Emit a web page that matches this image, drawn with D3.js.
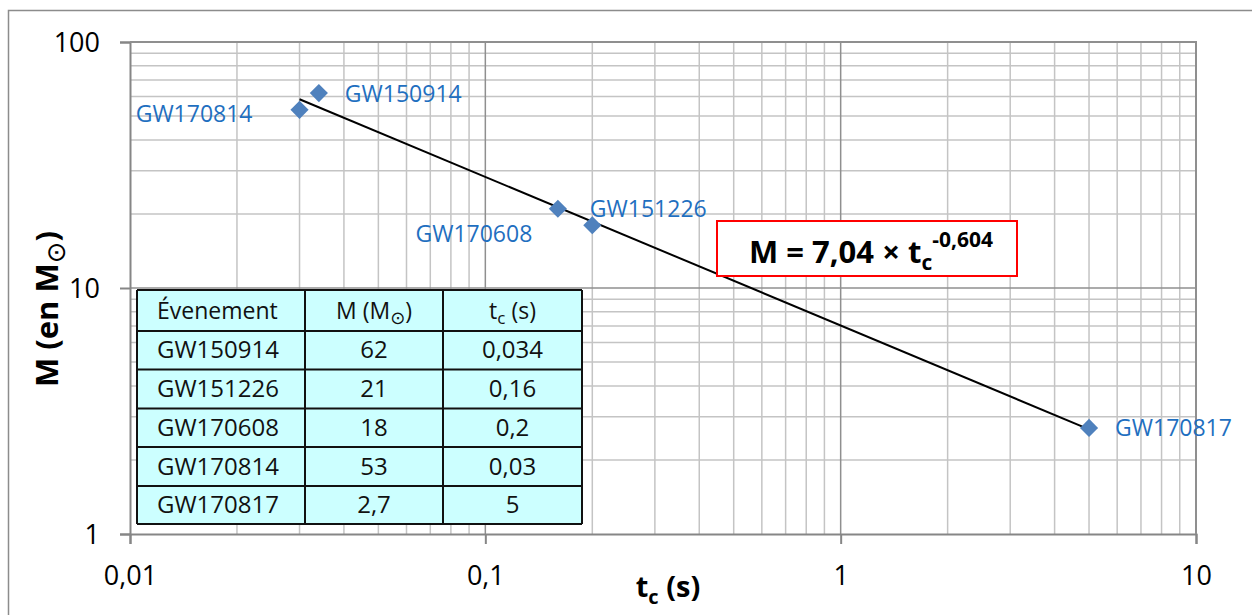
<!DOCTYPE html>
<html>
<head>
<meta charset="utf-8">
<script src="https://cdn.jsdelivr.net/npm/d3@7"></script>
<style>
  body { margin: 0; background: #fff; }
  svg { display: block; font-family: "Open Sans", "DejaVu Sans", sans-serif; }
</style>
</head>
<body>
<script>
// data
var events = ['GW150914', 'GW151226', 'GW170608', 'GW170814', 'GW170817'];
var masses = [62, 21, 18, 53, 2.7];
var tcs = [0.034, 0.16, 0.2, 0.03, 5];
var massText = ['62', '21', '18', '53', '2,7'];
var tcText = ['0,034', '0,16', '0,2', '0,03', '5'];
var xTicks = [0.01, 0.1, 1, 10];
var xTickLabels = ['0,01', '0,1', '1', '10'];
var yTicks = [1, 10, 100];
var yTickLabels = ['1', '10', '100'];
var fitA = 7.04, fitB = -0.604;

// where each point label sits (pixels from the marker)
var labelPos = {
    GW150914: { anchor: 'start', dx: 26, dy: 9 },
    GW151226: { anchor: 'start', dx: 32, dy: 8 },
    GW170608: { anchor: 'end', dx: -60, dy: 17 },
    GW170814: { anchor: 'end', dx: -47, dy: 12 },
    GW170817: { anchor: 'start', dx: 26, dy: 8 }
};

var width = 1252, height = 615;
var plotL = 130, plotR = 1196, plotT = 42, plotB = 534;

var svg = d3.select('body').append('svg')
    .attr('width', width)
    .attr('height', height);

// outer chart frame
svg.append('path')
    .attr('d', 'M8.5,' + height + 'V10.5H' + width)
    .attr('fill', 'none')
    .attr('stroke', '#8c8c8c')
    .attr('stroke-width', 1.5);

var x = d3.scaleLog().domain([0.01, 10]).range([plotL, plotR]);
var y = d3.scaleLog().domain([1, 100]).range([plotB, plotT]);

// minor + major grid
var xMinor = [], yMinor = [];
[0.01, 0.1, 1].forEach(function(d) {
    for (var k = 2; k <= 9; k++) xMinor.push(d * k);
});
[1, 10].forEach(function(d) {
    for (var k = 2; k <= 9; k++) yMinor.push(d * k);
});

var grid = svg.append('g');
grid.selectAll('.vmin').data(xMinor).enter().append('line')
    .attr('x1', function(d) { return x(d); })
    .attr('x2', function(d) { return x(d); })
    .attr('y1', plotT).attr('y2', plotB)
    .attr('stroke', '#c4c4c4').attr('stroke-width', 1.5);
grid.selectAll('.hmin').data(yMinor).enter().append('line')
    .attr('y1', function(d) { return y(d); })
    .attr('y2', function(d) { return y(d); })
    .attr('x1', plotL).attr('x2', plotR)
    .attr('stroke', '#c4c4c4').attr('stroke-width', 1.5);
grid.selectAll('.vmaj').data(xTicks.slice(1)).enter().append('line')
    .attr('x1', function(d) { return x(d); })
    .attr('x2', function(d) { return x(d); })
    .attr('y1', plotT).attr('y2', plotB)
    .attr('stroke', '#8f8f8f').attr('stroke-width', 1.5);
grid.selectAll('.hmaj').data(yTicks.slice(1)).enter().append('line')
    .attr('y1', function(d) { return y(d); })
    .attr('y2', function(d) { return y(d); })
    .attr('x1', plotL).attr('x2', plotR)
    .attr('stroke', '#8f8f8f').attr('stroke-width', 1.5);

// axes
var xAxis = svg.append('g')
    .attr('transform', 'translate(0,' + plotB + ')')
    .call(d3.axisBottom(x).tickValues(xTicks).tickSize(10).tickPadding(22)
        .tickFormat(function(d, i) { return xTickLabels[i]; }));
var yAxis = svg.append('g')
    .attr('transform', 'translate(' + plotL + ',0)')
    .call(d3.axisLeft(y).tickValues(yTicks).tickSize(10).tickPadding(20)
        .tickFormat(function(d, i) { return yTickLabels[i]; }));

[xAxis, yAxis].forEach(function(a) {
    a.select('.domain').attr('stroke', '#868686').attr('stroke-width', 2);
    a.selectAll('.tick line').attr('stroke', '#868686').attr('stroke-width', 2);
    a.selectAll('.tick text')
        .attr('fill', '#000')
        .style('font-family', '"Open Sans", sans-serif')
        .style('font-size', '27px');
});
xAxis.selectAll('.tick text').attr('dy', '0.71em');
yAxis.selectAll('.tick text').attr('dy', '0.36em');

// top and right frame of plot area
svg.append('path')
    .attr('d', 'M' + plotL + ',' + plotT + 'H' + plotR + 'V' + plotB)
    .attr('fill', 'none')
    .attr('stroke', '#8f8f8f')
    .attr('stroke-width', 2);

// axis titles
var xt = svg.append('text')
    .attr('x', 668).attr('y', 597)
    .attr('text-anchor', 'middle')
    .style('font-size', '29px').style('font-weight', 'bold');
xt.append('tspan').text('t');
xt.append('tspan').text('c').style('font-size', '20px').attr('dy', 7);
xt.append('tspan').text(' (s)').attr('dy', -7);

var yt = svg.append('text')
    .attr('transform', 'translate(58,309) rotate(-90)')
    .attr('text-anchor', 'middle')
    .style('font-size', '31px').style('font-weight', 'bold');
yt.append('tspan').text('M (en M');
yt.append('tspan').text('\u2299').style('font-size', '26px').style('font-weight', 'normal')
    .style('font-family', '"DejaVu Sans", sans-serif').attr('dy', 7);
yt.append('tspan').text(')').attr('dy', -7);

// fit line over the data range
var tExt = d3.extent(tcs);
var fitPts = [tExt[0], tExt[1]].map(function(t) { return [t, fitA * Math.pow(t, fitB)]; });
svg.append('line')
    .attr('x1', x(fitPts[0][0])).attr('y1', y(fitPts[0][1]))
    .attr('x2', x(fitPts[1][0])).attr('y2', y(fitPts[1][1]))
    .attr('stroke', '#000').attr('stroke-width', 2);

// points
var pts = events.map(function(e, i) { return { name: e, m: masses[i], t: tcs[i] }; });
svg.selectAll('.pt').data(pts).enter().append('path')
    .attr('class', 'pt')
    .attr('d', d3.symbol().type(d3.symbolDiamond2).size(210))
    .attr('transform', function(d) { return 'translate(' + x(d.t) + ',' + y(d.m) + ')'; })
    .attr('fill', '#4f81bd');

svg.selectAll('.lbl').data(pts).enter().append('text')
    .attr('x', function(d) { return x(d.t) + labelPos[d.name].dx; })
    .attr('y', function(d) { return y(d.m) + labelPos[d.name].dy; })
    .attr('text-anchor', function(d) { return labelPos[d.name].anchor; })
    .attr('fill', '#1f6fc0')
    .style('font-size', '23px')
    .text(function(d) { return d.name; });

// data table
var colX = [137, 305, 443, 582];
var rowY = [290, 331, 369.5, 408.5, 447, 486, 524];
var tbl = svg.append('g');
tbl.append('rect')
    .attr('x', colX[0]).attr('y', rowY[0])
    .attr('width', colX[3] - colX[0]).attr('height', rowY[6] - rowY[0])
    .attr('fill', '#ccffff');
rowY.forEach(function(ry) {
    tbl.append('line').attr('x1', colX[0]).attr('x2', colX[3])
        .attr('y1', ry).attr('y2', ry)
        .attr('stroke', '#111').attr('stroke-width', 2);
});
colX.forEach(function(cx) {
    tbl.append('line').attr('x1', cx).attr('x2', cx)
        .attr('y1', rowY[0]).attr('y2', rowY[6])
        .attr('stroke', '#111').attr('stroke-width', 2);
});

function cellY(r) { return (rowY[r] + rowY[r + 1]) / 2 + 8; }
var midA = (colX[1] + colX[2]) / 2, midB = (colX[2] + colX[3]) / 2;

tbl.append('text').attr('x', 157).attr('y', cellY(0))
    .style('font-size', '23px').attr('fill', '#111').text('\u00c9venement');
var h2 = tbl.append('text').attr('x', midA).attr('y', cellY(0))
    .attr('text-anchor', 'middle').style('font-size', '23px').attr('fill', '#111');
h2.append('tspan').text('M (M');
h2.append('tspan').text('\u2299').style('font-size', '18px')
    .style('font-family', '"DejaVu Sans", sans-serif').attr('dy', 5);
h2.append('tspan').text(')').attr('dy', -5);
var h3 = tbl.append('text').attr('x', midB).attr('y', cellY(0))
    .attr('text-anchor', 'middle').style('font-size', '23px').attr('fill', '#111');
h3.append('tspan').text('t');
h3.append('tspan').text('c').style('font-size', '17px').attr('dy', 5);
h3.append('tspan').text(' (s)').attr('dy', -5);

events.forEach(function(e, i) {
    var yy = cellY(i + 1);
    tbl.append('text').attr('x', 157).attr('y', yy)
        .style('font-size', '24px').attr('fill', '#111').text(e);
    tbl.append('text').attr('x', midA).attr('y', yy).attr('text-anchor', 'middle')
        .style('font-size', '24px').attr('fill', '#111').text(massText[i]);
    tbl.append('text').attr('x', midB).attr('y', yy).attr('text-anchor', 'middle')
        .style('font-size', '24px').attr('fill', '#111').text(tcText[i]);
});

// equation box
svg.append('rect')
    .attr('x', 717).attr('y', 221).attr('width', 300).attr('height', 55)
    .attr('fill', '#fff').attr('stroke', '#ff0000').attr('stroke-width', 2);
var eq = svg.append('text')
    .attr('x', 749).attr('y', 263)
    .style('font-size', '31px').style('font-weight', 'bold');
eq.append('tspan').text('M = 7,04 \u00d7 t');
eq.append('tspan').text('c').style('font-size', '21px').attr('dy', 7);
eq.append('tspan').text('-0,604').style('font-size', '21px').attr('dy', -23);
</script>
</body>
</html>
